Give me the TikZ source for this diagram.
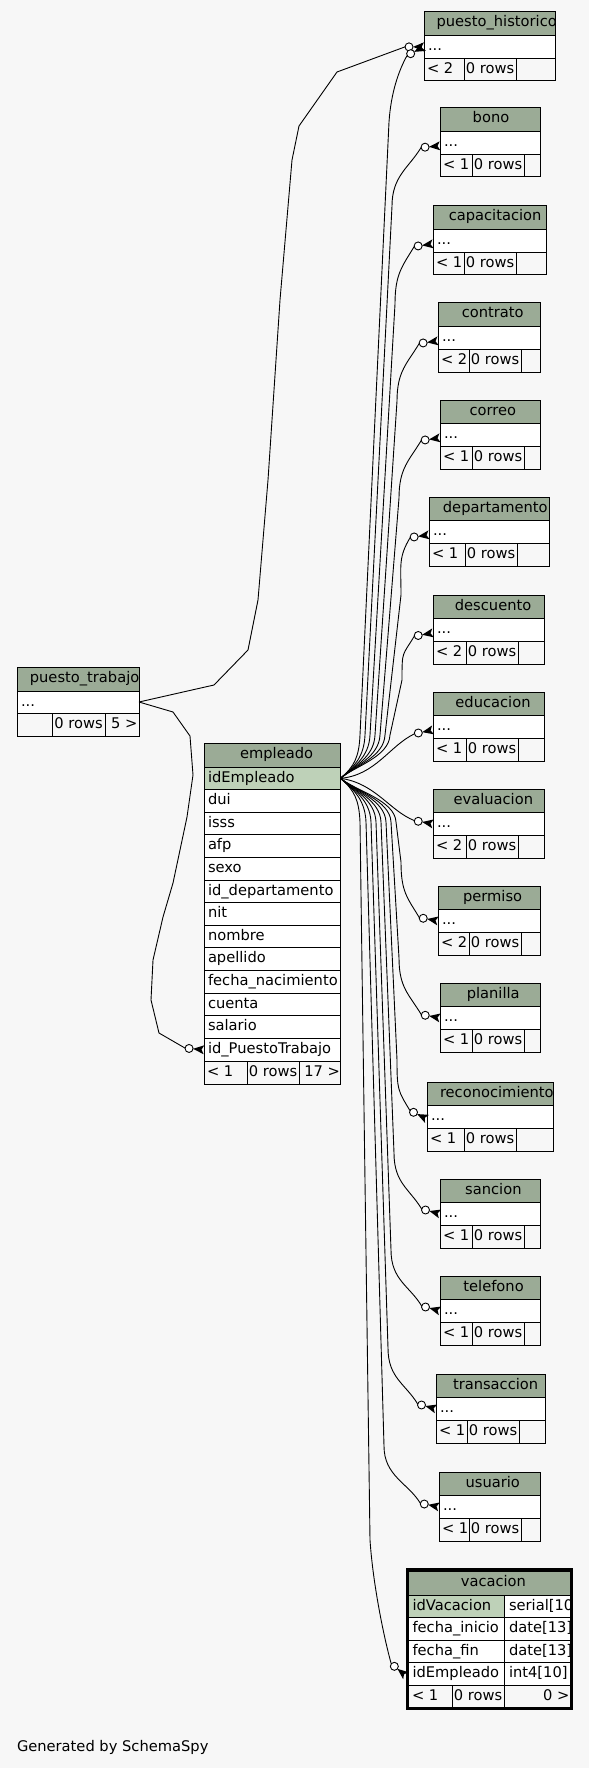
\documentclass[tikz,border=0pt]{standalone}
\usepackage{fontspec}
\setmainfont{DejaVu Sans}
\usetikzlibrary{calc}
\definecolor{bgc}{HTML}{F7F7F7}
\definecolor{hdrc}{HTML}{9BAB96}
\definecolor{pkc}{HTML}{BED1B8}
\newcommand\tblfont{\fontsize{14.67}{17}\selectfont}
\tikzset{
  cell/.style={draw=black, line width=1pt, inner sep=0pt, outer sep=0pt, anchor=north west},
  txt/.style={inner sep=0pt, outer sep=0pt, anchor=base west, font=\tblfont},
  conn/.style={draw=black, line width=0.9pt},
}
% #1 id, #2 title, #3 left, #4 top, #5 width, #6 col1, #7 parents, #8 title shift
\newcommand\stbl[8]{%
  \pgfmathsetmacro\tbR{#3+#5}%
  \pgfmathsetmacro\tbYa{#4+23.5}%
  \pgfmathsetmacro\tbYb{#4+46.25}%
  \pgfmathsetmacro\tbYc{#4+69}%
  \pgfmathsetmacro\tbXa{#3+#6}%
  \pgfmathsetmacro\tbXb{#3+#6+52}%
  \pgfmathsetmacro\tbWc{#5-#6-52}%
  \pgfmathsetmacro\tbHx{#3+#5/2+#8}%
  \node[cell, fill=hdrc, minimum width=#5, minimum height=23.5] (#1) at (#3,#4) {};
  \node[cell, fill=white, minimum width=#5, minimum height=22.75] (#1-r) at (#3,\tbYa) {};
  \node[cell, fill=bgc, minimum width=#6, minimum height=22.75] (#1-f1) at (#3,\tbYb) {};
  \node[cell, fill=bgc, minimum width=52, minimum height=22.75] (#1-f2) at (\tbXa,\tbYb) {};
  \node[cell, fill=bgc, minimum width=\tbWc, minimum height=22.75] (#1-f3) at (\tbXb,\tbYb) {};
  \begin{scope}
    \clip (#3,#4) rectangle (\tbR,\tbYc);
    \node[txt, anchor=base] (#1-t) at (\tbHx,#4+15) {#2};
    \node[txt] (#1-rt) at (#3+4,\tbYa+15) {...};
    \node[txt] (#1-pa) at (#3+3,\tbYb+15) {#7};
    \node[txt, anchor=base] (#1-nt) at (\tbXa+26,\tbYb+15) {0 rows};
  \end{scope}}
\newcommand\mk[3]{%
  \coordinate (#1P) at #2;
  \coordinate (#1) at ($(#1P)+(#3:19)$);
  \fill[black] ($(#1P)+(#3:11)$) -- ($(#1P)+({#3+90}:4.5)$) -- ($(#1P)+(#3:2.5)$) -- ($(#1P)+({#3-90}:4.5)$) -- cycle;
  \draw[line width=0.9pt, fill=white] ($(#1P)+(#3:15)$) circle[radius=4];}
\newcommand\upc[4]{%
  \draw[conn] (E) .. controls +(14,-12) and +(-1,22) .. (#2,735) -- (#3,#4) .. controls +(0,-30) and +(-12,20) .. (#1);}
\newcommand\dnc[4]{%
  \draw[conn] (E) .. controls +(14,12) and +(-1,-22) .. (#2,822) -- (#3,#4) .. controls +(0,30) and +(-12,-20) .. (#1);}
\begin{document}
\begin{tikzpicture}[x=1pt,y=-1pt]
\fill[bgc] (0,0) rectangle (589,1768);
\useasboundingbox (0,0) rectangle (589,1768);

% small tables
\stbl{ph}{puesto\_historico}{424}{12}{131}{40}{< 2}{7.2}
\stbl{bono}{bono}{440}{108}{100}{32}{< 1}{1}
\stbl{cap}{capacitacion}{433}{206}{113}{31}{< 1}{5.6}
\stbl{con}{contrato}{438}{303}{102}{31}{< 2}{3.7}
\stbl{cor}{correo}{440}{400}{100}{32}{< 1}{2.8}
\stbl{dep}{departamento}{429}{497}{120}{36}{< 1}{6.3}
\stbl{des}{descuento}{433}{595}{111}{33}{< 2}{4.6}
\stbl{edu}{educacion}{433}{692}{111}{33}{< 1}{4.5}
\stbl{eva}{evaluacion}{433}{789}{111}{33}{< 2}{4.8}
\stbl{per}{permiso}{438}{886}{102}{31}{< 2}{3.6}
\stbl{pla}{planilla}{440}{983}{100}{32}{< 1}{3.2}
\stbl{rec}{reconocimiento}{427}{1082}{126}{37}{< 1}{6.8}
\stbl{san}{sancion}{440}{1179}{100}{32}{< 1}{3.4}
\stbl{tel}{telefono}{440}{1276}{100}{32}{< 1}{3.6}
\stbl{tra}{transaccion}{436}{1374}{109}{31}{< 1}{5.1}
\stbl{usu}{usuario}{439}{1472}{101}{30}{< 1}{3.3}

% puesto_trabajo
\node[cell, fill=hdrc, minimum width=122, minimum height=24] (pt) at (17,667) {};
\node[cell, fill=white, minimum width=122, minimum height=22] (pt-r) at (17,691) {};
\node[cell, fill=bgc, minimum width=35, minimum height=23] (pt-f1) at (17,713) {};
\node[cell, fill=bgc, minimum width=53, minimum height=23] (pt-f2) at (52,713) {};
\node[cell, fill=bgc, minimum width=34, minimum height=23] (pt-f3) at (105,713) {};
\begin{scope}
  \clip (17,667) rectangle (139,736);
  \node[txt, anchor=base] (pt-t) at (84.6,682) {puesto\_trabajo};
  \node[txt] (pt-rt) at (21,706) {...};
  \node[txt, anchor=base] (pt-nt) at (78.5,728) {0 rows};
  \node[txt, anchor=base east] (pt-ct) at (137.5,728) {5 >};
\end{scope}

% empleado
\node[cell, fill=hdrc, minimum width=136.5, minimum height=24] (emp) at (204,743) {};
\node[txt, anchor=base] (emp-t) at (276.6,758) {empleado};
\node[cell, fill=pkc, minimum width=136.5, minimum height=22.62] (emp-r0) at (204,767) {};
\node[txt] (emp-t0) at (208,782) {idEmpleado};
\foreach \t [count=\i] in {dui,isss,afp,sexo,id\_departamento,nit,nombre,apellido,fecha\_nacimiento,cuenta,salario,id\_PuestoTrabajo}{
  \pgfmathsetmacro\yy{767+\i*22.62}
  \node[cell, fill=white, minimum width=136.5, minimum height=22.62] (emp-r\i) at (204,\yy) {};
  \node[txt] (emp-t\i) at (208,\yy+15) {\t};
}
\node[cell, fill=bgc, minimum width=43, minimum height=23] (emp-f1) at (204,1061) {};
\node[cell, fill=bgc, minimum width=52, minimum height=23] (emp-f2) at (247,1061) {};
\node[cell, fill=bgc, minimum width=41.5, minimum height=23] (emp-f3) at (299,1061) {};
\node[txt] (emp-pa) at (207,1076) {< 1};
\node[txt, anchor=base] (emp-nt) at (273,1076) {0 rows};
\node[txt, anchor=base east] (emp-ct) at (340,1076) {17 >};

% vacacion
\node[cell, fill=hdrc, minimum width=162, minimum height=24] (vac) at (408.5,1571) {};
\node[txt, anchor=base] (vac-t) at (493.4,1586) {vacacion};
\node[cell, fill=pkc, minimum width=95.5, minimum height=22.5] (vac-a0) at (408.5,1595) {};
\node[cell, fill=white, minimum width=66.5, minimum height=22.5] (vac-b0) at (504,1595) {};
\foreach \i in {1,2,3}{
  \pgfmathsetmacro\yy{1595+\i*22.5}
  \node[cell, fill=white, minimum width=95.5, minimum height=22.5] (vac-a\i) at (408.5,\yy) {};
  \node[cell, fill=white, minimum width=66.5, minimum height=22.5] (vac-b\i) at (504,\yy) {};
}
\node[cell, fill=bgc, minimum width=43.5, minimum height=22.5] (vac-f1) at (408.5,1685) {};
\node[cell, fill=bgc, minimum width=52, minimum height=22.5] (vac-f2) at (452,1685) {};
\node[cell, fill=bgc, minimum width=66.5, minimum height=22.5] (vac-f3) at (504,1685) {};
\begin{scope}
  \clip (408.5,1571) rectangle (571,1707.5);
  \node[txt] (vac-ta0) at (412.5,1610) {idVacacion};
  \node[txt] (vac-tb0) at (509,1610) {serial[10]};
  \node[txt] (vac-ta1) at (412.5,1632.5) {fecha\_inicio};
  \node[txt] (vac-tb1) at (509,1632.5) {date[13]};
  \node[txt] (vac-ta2) at (412.5,1655) {fecha\_fin};
  \node[txt] (vac-tb2) at (509,1655) {date[13]};
  \node[txt] (vac-ta3) at (412.5,1677.5) {idEmpleado};
  \node[txt] (vac-tb3) at (509,1677.5) {int4[10]};
  \node[txt] (vac-pa) at (412,1700) {< 1};
  \node[txt, anchor=base] (vac-nt) at (478,1700) {0 rows};
  \node[txt, anchor=base east] (vac-ct) at (569.5,1700) {0 >};
\end{scope}
\draw[line width=3pt] (407.5,1569.5) rectangle (571.5,1708.5);

% markers
\mk{Qph1}{(ph-r.west)}{180}
\mk{Qph2}{(ph-r.west)}{153}
\mk{Qbono}{($(bono-r.west)+(0,3)$)}{175}
\mk{Qcap}{($(cap-r.west)+(0,3)$)}{172}
\mk{Qcon}{($(con-r.west)+(0,3)$)}{172}
\mk{Qcor}{($(cor-r.west)+(0,3)$)}{172}
\mk{Qdep}{($(dep-r.west)+(0,3)$)}{172}
\mk{Qdes}{($(des-r.west)+(0,3)$)}{170}
\mk{Qedu}{($(edu-r.west)+(0,3)$)}{168}
\mk{Qeva}{(eva-r.west)}{190}
\mk{Qper}{(per-r.west)}{190}
\mk{Qpla}{(pla-r.west)}{190}
\mk{Qrec}{($(rec-r.west)+(0,2)$)}{206}
\mk{Qsan}{(san-r.west)}{195}
\mk{Qtel}{(tel-r.west)}{195}
\mk{Qtra}{(tra-r.west)}{195}
\mk{Qusu}{(usu-r.west)}{191}
\mk{Qvac}{($(vac-a3.west)+(-2.5,2)$)}{219}
\mk{Qept}{(emp-r12.west)}{185}

% connectors
\coordinate (E) at (emp-r0.east);
\draw[conn] (pt-r.east) -- (214,685) -- (248,650) -- (258,600) -- (268,480) -- (280,300) -- (292,160) -- (299,126) -- (337,72) -- (Qph1);
\draw[conn] (pt-r.east) -- (173,712) -- (190,736) -- (193,775) -- (187,817) -- (173,883) -- (163,917) -- (153,960) -- (151,1000) -- (159,1033) -- (Qept);
\draw[conn] (E) .. controls +(14,-12) and +(-1,22) .. (360,735) -- (389,122) .. controls (391,92) and (399,70) .. (Qph2);
\upc{Qbono}{365}{392}{206}
\upc{Qcap}{370}{395}{304}
\upc{Qcon}{375}{397}{401}
\upc{Qcor}{380}{399}{498}
\upc{Qdep}{385}{401}{595}
\upc{Qdes}{390}{402}{680}
\draw[conn] (E) .. controls +(35,-3) and +(-25,12) .. (Qedu);
\draw[conn] (E) .. controls +(35,5) and +(-25,-10) .. (Qeva);
\dnc{Qper}{396}{401}{862}
\dnc{Qpla}{391}{399}{958}
\dnc{Qrec}{386}{397}{1060}
\dnc{Qsan}{381}{394}{1153}
\dnc{Qtel}{376}{391}{1250}
\dnc{Qtra}{371}{388}{1348}
\dnc{Qusu}{366}{384}{1446}
\draw[conn] (E) .. controls +(14,12) and +(-1,-22) .. (360,822) -- (370,1540) .. controls +(3,45) and +(-7,-25) .. (Qvac);

\node[txt] (gen) at (17,1751) {Generated by SchemaSpy};
\end{tikzpicture}
\end{document}
